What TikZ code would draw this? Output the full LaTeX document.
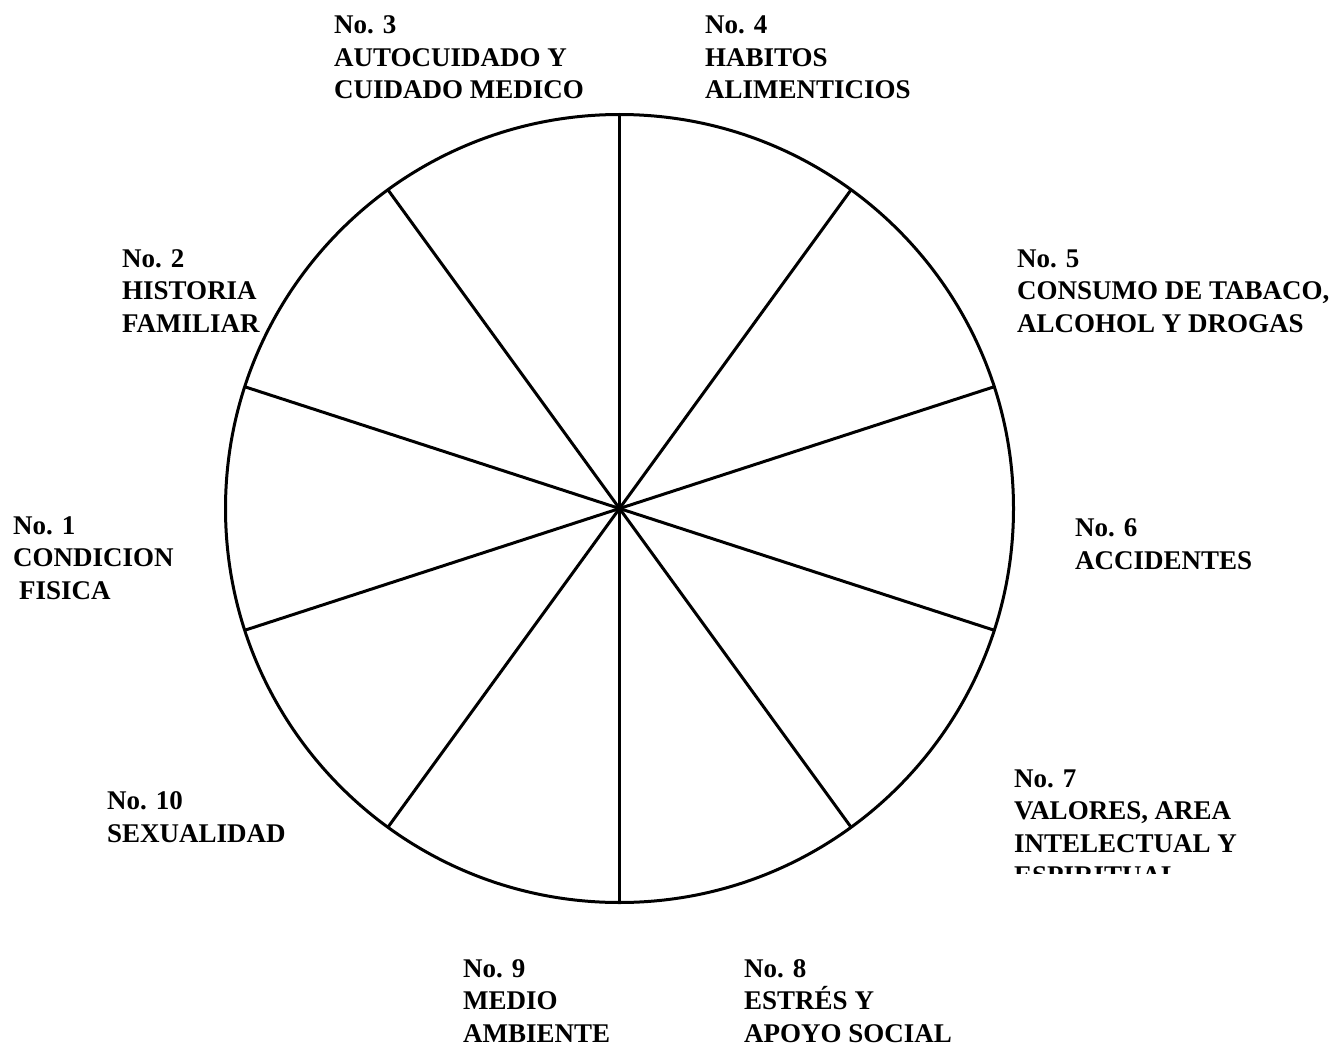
\documentclass[tikz,border=0pt]{standalone}
\usepackage{fontspec}
\setmainfont{Liberation Serif}
\usetikzlibrary{calc}
\begin{document}
\begin{tikzpicture}[x=1pt,y=-1pt,
  lbl/.style={anchor=base west, inner sep=0pt, align=left,
    font=\fontsize{27}{32.5}\selectfont\bfseries},
  wheel/.style={line width=3pt}]
\useasboundingbox (0,0) rectangle (1333,1046);
\coordinate (c) at (619.5,508.5);
\draw[wheel] (c) circle[radius=394pt];
\foreach \a [count=\i] in {18,54,90,126,162,198,234,270,306,342}{
  \coordinate (s\i) at ($(c)+(\a:394pt)$);
  \draw[wheel] (c) -- (s\i);
}
% positions give the baseline of the last line
\node[lbl] (n3) at (334,99) {No. 3\\AUTOCUIDADO Y\\CUIDADO MEDICO};
\node[lbl] (n4) at (705,99) {No. 4\\HABITOS\\ALIMENTICIOS};
\node[lbl] (n2) at (122,332) {No. 2\\HISTORIA\\FAMILIAR};
\node[lbl] (n5) at (1017,332) {No. 5\\CONSUMO DE TABACO,\\ALCOHOL Y DROGAS};
\node[lbl] (n1) at (13,599) {No. 1\\CONDICION\\\hspace*{6pt}FISICA};
\node[lbl] (n6) at (1075,569) {No. 6\\ACCIDENTES};
\node[lbl] (n10) at (107,842) {No. 10\\SEXUALIDAD};
\begin{scope}
\clip (0,0) rectangle (1333,873);
\node[lbl] (n7) at (1014,884.5) {No. 7\\VALORES, AREA\\INTELECTUAL Y\\ESPIRITUAL};
\end{scope}
\node[lbl] (n9) at (463,1042) {No. 9\\MEDIO\\AMBIENTE};
\node[lbl] (n8) at (744,1042) {No. 8\\ESTRÉS Y\\APOYO SOCIAL};
\end{tikzpicture}
\end{document}
